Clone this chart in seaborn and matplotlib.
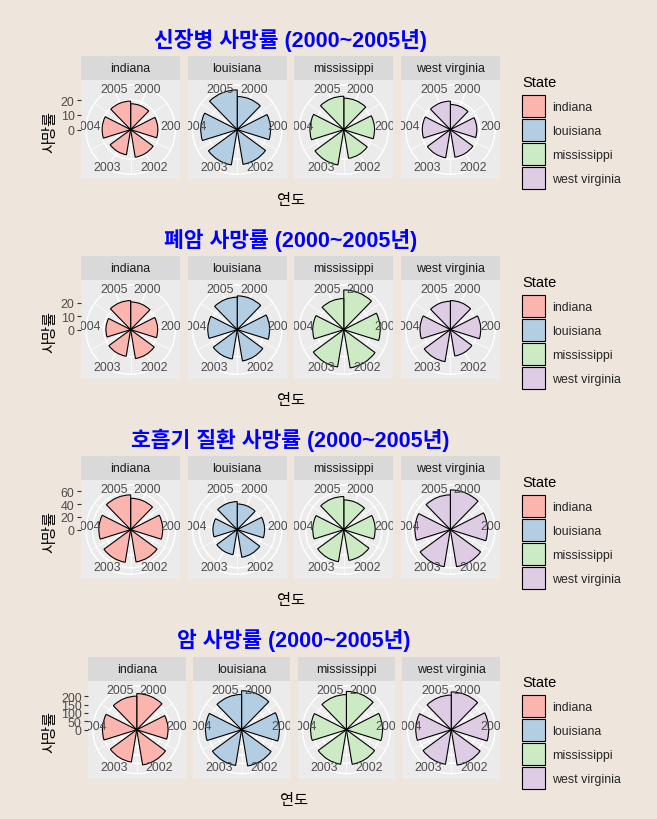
import numpy as np
import pandas as pd
import matplotlib
matplotlib.use("Agg")
import matplotlib.pyplot as plt
from matplotlib.patches import Patch
import seaborn as sns

# %% data
years = [2000, 2001, 2002, 2003, 2004, 2005]
states = ["indiana", "louisiana", "mississippi", "west virginia"]

titles = ["신장병 사망률 (2000~2005년)", "폐암 사망률 (2000~2005년)",
          "호흡기 질환 사망률 (2000~2005년)", "암 사망률 (2000~2005년)"]

# rows: indiana, louisiana, mississippi, west virginia / cols: 2000..2005
kidney = [[17.6, 18.5, 19.0, 17.3, 19.4, 19.4],
          [22.5, 22.7, 23.9, 24.3, 24.8, 27.0],
          [21.4, 20.9, 19.8, 24.3, 23.0, 22.7],
          [17.1, 18.0, 19.0, 19.4, 19.1, 19.4]]
lung = [[20.5, 20.0, 21.7, 20.0, 18.3, 21.5],
        [25.0, 24.0, 23.5, 22.0, 21.8, 24.0],
        [29.4, 27.0, 28.7, 28.0, 23.0, 23.0],
        [21.5, 22.5, 19.8, 24.0, 22.5, 21.0]]
resp = [[49.3, 50.4, 51.5, 52.0, 50.0, 54.6],
        [40.3, 43.0, 44.0, 39.8, 38.2, 44.0],
        [46.7, 49.3, 49.0, 51.0, 48.8, 52.0],
        [62.4, 58.4, 59.0, 59.0, 55.7, 54.6]]
cancer = [[215, 186, 212, 195, 204, 200],
          [232, 225, 218, 215, 215, 210],
          [228, 215, 208, 208, 213, 209],
          [225, 223, 213, 208, 211, 206]]

r_breaks = [[0, 10, 20], [0, 10, 20], [0, 20, 40, 60], [0, 50, 100, 150, 200]]
diseases = [kidney, lung, resp, cancer]

# %% style
BG = "#EEE5DC"
sns.set_theme(style="white")
plt.rcParams["font.family"] = ["Liberation Sans", "Noto Sans CJK KR"]
pal = sns.color_palette("Pastel1", len(states))

bar_w = 0.7
t0 = years[0] - bar_w / 2
span = years[-1] - years[0] + bar_w


def to_theta(yr):
    return (np.asarray(yr, dtype=float) - t0) / span * 2 * np.pi


rows = []
for k, data in enumerate(diseases):
    for j, st in enumerate(states):
        for i, yr in enumerate(years):
            rows.append({"sec": k, "State": st, "year": yr, "rate": data[j][i]})
df = pd.DataFrame(rows)
df["theta"] = to_theta(df["year"])

# %% figure
W, H = 657, 820
fig = plt.figure(figsize=(W / 100, H / 100), dpi=100)
fig.patch.set_facecolor(BG)


def box(x, y, w, h):
    return [x / W, 1 - (y + h) / H, w / W, h / H]


panel_left = [81, 81, 81, 88]
panel_top = [81, 81, 81, 82]
panel_right = 500
gap = 7.3
strip_h = 24
txt_size = 8.9
handles = [Patch(facecolor=c, edgecolor="black", linewidth=0.8) for c in pal]

for k, title in enumerate(titles):
    y0 = 200 * k
    left = panel_left[k]
    pw = (panel_right - left - 3 * gap) / 4
    ptop = y0 + panel_top[k]
    sub = df[df["sec"] == k]
    ymax = sub["rate"].max()

    for j, st in enumerate(states):
        x = left + j * (pw + gap)
        # panel background + radial axis
        rect = fig.add_axes(box(x, ptop, pw, pw))
        rect.set_facecolor("#EBEBEB")
        rect.set_xlim(-1, 1)
        rect.set_ylim(-1.25 * ymax, 1.25 * ymax)
        for s in rect.spines.values():
            s.set_visible(False)
        rect.set_xticks([])
        if j == 0:
            rect.set_yticks(r_breaks[k])
            rect.tick_params(axis="y", direction="out", length=2.6, width=0.8,
                             color="#333333", labelcolor="#4D4D4D",
                             labelsize=txt_size, pad=2, left=True)
        else:
            rect.set_yticks([])

        # strip
        sax = fig.add_axes(box(x, ptop - strip_h, pw, strip_h))
        sax.set_facecolor("#D9D9D9")
        sax.set_xticks([])
        sax.set_yticks([])
        for s in sax.spines.values():
            s.set_visible(False)
        sax.text(0.5, 0.5, st, ha="center", va="center", fontsize=txt_size,
                 color="#1A1A1A", transform=sax.transAxes)

        # polar bars
        pax = fig.add_axes(box(x + 0.05 * pw, ptop + 0.05 * pw, 0.9 * pw, 0.9 * pw),
                           projection="polar")
        pax.set_facecolor("none")
        pax.set_theta_zero_location("N")
        pax.set_theta_direction(-1)
        sns.barplot(data=sub[sub["State"] == st], x="theta", y="rate",
                    native_scale=True, width=bar_w, color=pal[j],
                    saturation=1, edgecolor="black", linewidth=0.8,
                    errorbar=None, ax=pax)
        pax.set_xlim(0, 2 * np.pi)
        pax.set_ylim(0, ymax * 0.45 / 0.4)
        pax.set_xlabel("")
        pax.set_ylabel("")
        pax.set_axisbelow(True)
        pax.set_xticks(to_theta(years))
        pax.set_xticks(to_theta(np.array(years[:-1]) + 0.5), minor=True)
        pax.set_yticks(r_breaks[k])
        pax.set_xticklabels([])
        pax.set_yticklabels([])
        pax.tick_params(length=0)
        pax.grid(True, which="major", color="white", linewidth=1.0)
        pax.xaxis.grid(True, which="minor", color="white", linewidth=0.5)
        pax.spines["polar"].set_color("white")
        pax.spines["polar"].set_linewidth(1.0)
        r_lab = ymax * 0.445 / 0.4
        for yr, th in zip(years, to_theta(years)):
            t = pax.text(th, r_lab, str(yr), ha="center", va="center",
                         fontsize=txt_size, color="#4D4D4D", clip_on=True)
            t.set_clip_path(rect.patch)

    cx = (left + panel_right) / 2
    fig.text(cx / W, 1 - (y0 + 40) / H, title, ha="center", va="center",
             fontsize=15.5, fontweight="bold", color="blue")
    fig.text(cx / W, 1 - (y0 + 201) / H, "연도", ha="center", va="center",
             fontsize=11, color="black")
    fig.text(50 / W, 1 - (y0 + 132) / H, "사망률", ha="center", va="center",
             rotation=90, fontsize=11, color="black")

    # legend
    fig.text(522 / W, 1 - (y0 + 83) / H, "State", ha="left", va="center",
             fontsize=10.5, color="black")
    fig.legend(handles, states, loc="upper left",
               bbox_to_anchor=(522 / W, 1 - (y0 + 96) / H),
               frameon=False, fontsize=txt_size, handlelength=1.85,
               handleheight=2.4, labelspacing=0.13, handletextpad=0.57,
               borderpad=0, borderaxespad=0)

fig.savefig("out.png", dpi=100, facecolor=BG)
